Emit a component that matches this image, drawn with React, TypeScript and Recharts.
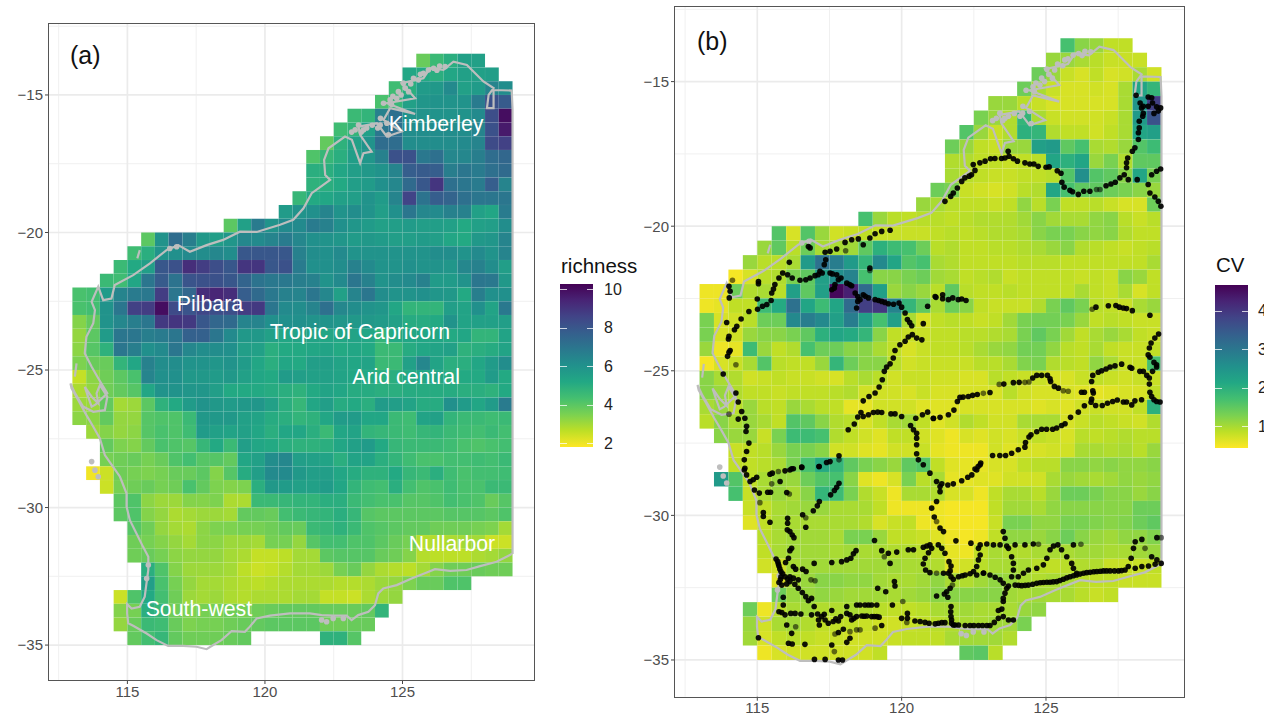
import { ScatterChart, Scatter, XAxis, YAxis, CartesianGrid, ReferenceLine } from "recharts";

const FONT = "'Liberation Sans', Arial, sans-serif";

const lonTicks = [115, 120, 125];
const latTicks = [-15, -20, -25, -30, -35];
const lonMinor = [112.5, 117.5, 122.5, 127.5];
const latMinor = [-12.5, -17.5, -22.5, -27.5, -32.5];
const lonDomain = [112.15, 129.78];
const latDomain = [-36.27, -12.42];

const viridis = ["#440154", "#482475", "#414487", "#355f8d", "#2a788e", "#21918c", "#22a884", "#44bf70", "#7ad151", "#bddf26", "#fde725"];

// western edge of the first cell in every 0.5 degree row, north to south
const rowStartLon = [125.5, 125, 124.5, 124, 123, 122.5, 122, 121.5, 121.5, 121.5, 121, 120.5, 118.5, 115.5, 115, 114.5, 114, 113, 113, 113, 113, 113, 113, 113, 113, 113, 113, 113.5, 114, 114, 113.5, 114, 114.5, 114.5, 115, 115, 115, 115.5, 115.5, 114.5, 114.5, 114.5, 115];

const richness: (number | null)[][] = [
  [3.8, 4.6, 5, 5.5, 5.5],
  [5.3, 5.2, 5, 5.3, 5.5, 5.5, 5.6],
  [4.5, 5, 5.7, 5.8, 6.3, 5.5, 5.7, 6.5, 6.2],
  [4.3, 4.7, 5.5, 5.9, 6, 6, 6, 6.8, 8.2, 7.9],
  [4.6, 4.8, 6.6, 7.2, 6, 6, 6, 6, 6, 6.3, 8.3, 10],
  [4.5, 4.8, 5.5, 7, 7.2, 6.2, 6.2, 6.2, 6.2, 6.2, 6.5, 8.2, 9.7],
  [3.9, 4.9, 5.5, 6, 7.3, 7.3, 6.2, 6.2, 6.2, 6.2, 6.3, 6.5, 8.4, 8.7],
  [4.2, 4.7, 5, 5.6, 5.9, 6.6, 8.2, 8.2, 6.9, 7.2, 6.4, 6.4, 6.7, 7.3, 7.5],
  [5, 5, 5.3, 5.6, 5.8, 6, 6.5, 7.8, 7.9, 7.8, 6.7, 7, 6.8, 7.2, 7.4],
  [4.9, 5, 5.2, 5.6, 5.7, 6.1, 6.4, 7.4, 8, 9, 7.2, 7, 6.8, 7.8, 6.5],
  [4.7, 5.2, 5.3, 5.5, 5.6, 6, 5.7, 6.5, 8.6, 7.1, 7.8, 7.6, 7.2, 7, 7, 7],
  [5.7, 6, 6.1, 6.5, 6, 6.2, 6, 5.6, 6.1, 7, 6.4, 6.3, 6.6, 6.6, 5.5, 5.3, 6.8],
  [4, 5.5, 6.8, 6, 6.3, 6.3, 6.8, 6.6, 6.1, 5.9, 5.7, 5.5, 5.6, 5.7, 5.6, 5.6, 5.5, 5.2, 5.5, 5.6, 6.2],
  [4, 6, 7.3, 6.7, 5.8, 5.6, 5.9, 6.4, 6.3, 6.5, 6.8, 6.4, 6.1, 6, 5.9, 5.7, 5.8, 5.7, 5.6, 5.6, 5.7, 5.6, 5.3, 5.2, 5.8, 5.9, 6.5],
  [4.5, 5, 6, 6.1, 6.3, 6.2, 6.4, 6.2, 8, 8, 8, 8, 6.6, 6.2, 6.1, 6.3, 6, 6, 6, 6, 6, 6, 6.2, 6.2, 6, 6.3, 6, 6.5],
  [4.6, 5.2, 5.6, 8, 8.2, 9.2, 8.8, 8.3, 8, 9, 9, 8, 8.2, 6.8, 6.1, 6.1, 6.2, 6.6, 6.3, 6, 6, 6.1, 6, 6, 5.9, 6.4, 6.6, 6.2, 5.6],
  [4.6, 4.5, 5.3, 7, 7.9, 7.1, 8.1, 8.2, 8.2, 8, 7.6, 7.1, 6.9, 6.9, 6.7, 6.6, 6, 6.3, 7, 6.6, 6, 6.2, 6.3, 6.6, 5.7, 5.7, 6, 7, 6.9, 5.8],
  [4.3, 4.4, 5.7, 6.5, 6.8, 6.9, 8.8, 7, 7.5, 9.2, 9.4, 9.2, 7.8, 7.4, 6.9, 6.6, 6.5, 7, 6.4, 5.5, 6.5, 7, 6.2, 6, 6, 6.1, 5.9, 5.8, 5.2, 6.7, 6.1, 6.1],
  [4.3, 4.4, 6, 7, 8.7, 8.8, 10, 8.4, 8.1, 8.5, 8.3, 8.3, 8.8, 8.9, 7, 6.3, 6.2, 6.5, 7.2, 6.4, 6.2, 6, 5.9, 5.3, 4.8, 4.8, 4.8, 5.6, 5.4, 6.1, 5.4, 6.9],
  [3.4, 3.9, 6, 6.4, 6.7, 7, 8.9, 9, 8.9, 8, 7.5, 7.4, 6.5, 6.5, 6.1, 6.1, 6.1, 6, 6, 5.9, 5.8, 5.8, 5.7, 5.5, 5.1, 5.1, 5.2, 6, 5.4, 5.5, 5.5, 5.6],
  [3.2, 4, 5.7, 7, 7, 6.7, 6.8, 7, 7.7, 7.7, 7, 6.3, 5.8, 5.8, 5.5, 5.3, 5.4, 5.4, 5.3, 5.3, 5.4, 5.3, 4.8, 5.2, 5.3, 5.3, 5.3, 5.2, 5.3, 4.8, 4.8, 5.4],
  [3.3, 4.1, 4.9, 7, 6.7, 6.1, 6.3, 7, 6.4, 6.2, 6.2, 6.1, 5.6, 5.5, 5, 5.2, 5.2, 5.3, 5.4, 5.2, 5.3, 5.2, 4.6, 4.6, 5.1, 5.3, 5.4, 5.5, 4.9, 5, 5.1, 5.4],
  [3.5, 3.8, 3.8, 4.8, 5.3, 6.6, 6.2, 6.2, 6, 6, 5.9, 6, 5.7, 5.3, 5, 5.3, 5.2, 5.6, 5.6, 5.4, 5.3, 5.4, 4.6, 4.6, 5.5, 6.4, 5.4, 5, 5, 5.3, 5.7, 6.2],
  [2.6, 3.3, 3.7, 4, 4.3, 6.5, 6.1, 6.1, 5.8, 5.8, 5.7, 5.8, 5.5, 5.3, 5.2, 5.7, 5.6, 5.5, 5.5, 5.4, 5.3, 5.2, 5, 5, 5.2, 5.3, 5.3, 5, 5.2, 5.2, 5.7, 5.2],
  [2.9, 3.2, 3.7, 3.9, 4.1, 5.3, 6, 6, 5.9, 5.9, 5.6, 5.2, 5.2, 5.2, 5.1, 5, 4.9, 5.2, 5.4, 5.3, 5.1, 5.1, 5, 5, 5.1, 5.1, 5.1, 5.1, 5, 5, 4.9, 5.2],
  [3.1, 3.1, 3.9, 3, 3.1, 4, 4.9, 5.2, 5.7, 6, 5.8, 5.7, 5.8, 5.9, 5.5, 5, 4.7, 5.3, 5.6, 5.1, 5.2, 5, 5.7, 5.6, 5.4, 5.1, 5.1, 6.1, 5.7, 5.3, 5.7, 6.8],
  [3.3, 3.3, 3.9, 3.2, 3.2, 4.1, 4.2, 4.2, 4.6, 5.8, 5.8, 5.8, 5.5, 5.4, 5.1, 5, 4.8, 4.9, 5.3, 5.7, 5.7, 5.3, 5.3, 4.6, 4.5, 5.4, 5.5, 4.8, 4.6, 4.6, 4.5, 4.6],
  [3.1, 3.4, 3.2, 3.3, 4.1, 4.3, 4.2, 4.5, 5.7, 5.5, 5.4, 5.5, 5.3, 5, 5.3, 5.3, 5, 4.6, 5.3, 5.4, 4.8, 4.7, 4.6, 4.5, 4.7, 4.8, 4.6, 4.5, 4.4, 4.6, 4.4],
  [3.9, 3.5, 3.4, 3.9, 4.3, 4.2, 4.1, 4.7, 5.2, 4.6, 5.6, 5.3, 5.2, 5, 4.9, 4.9, 5, 5.3, 5.5, 5.7, 5.2, 4.7, 4.6, 4.6, 4.6, 4.5, 4.3, 4.2, 4.3, 4.4],
  [3.6, 3.7, 3.8, 3.6, 3.8, 4.2, 4.4, 4.1, 4.1, 3.9, 5.3, 5.5, 6.2, 6.4, 5.6, 5.5, 5.4, 5, 5.4, 5.4, 5, 4.8, 4.5, 4.3, 4.3, 4.4, 4.4, 4.5, 4.4, 4.6],
  [2, 2.5, 3.7, 3.6, 3.5, 3.6, 3.8, 3.8, 4, 3.4, 4.1, 5.1, 5.6, 6.3, 6.3, 5.8, 5.6, 5.6, 5.3, 5.1, 4.9, 4.9, 5.2, 4.7, 4.6, 5, 4.5, 4.3, 4.4, 4.4, 4.5],
  [2.5, 3.6, 3.7, 3.8, 3.6, 3.7, 4.3, 3.9, 3.5, 3.4, 3.5, 5, 5.8, 5.7, 5.5, 5.5, 5.7, 5.3, 4.8, 4.5, 4.4, 5, 4.4, 4.2, 4.3, 4.5, 4.3, 4.3, 4.6, 4.6],
  [4, 4.2, 3.3, 3.1, 3.1, 3.4, 3.4, 3.5, 2.9, 2.9, 4.6, 4.6, 4.7, 4.8, 4.8, 5, 5, 4.6, 4.4, 4.3, 4.3, 4.1, 4.1, 4.2, 4.4, 4.3, 4.2, 3.8, 4.1],
  [4, 4.2, 3.4, 3.2, 2.9, 3, 3.1, 3.1, 3, 3.9, 3.9, 3.8, 4.4, 4.6, 4.7, 4.8, 5, 4.7, 4.1, 4, 4, 4, 4, 4, 4.1, 4.1, 4.1, 4, 4.2],
  [4.1, 3.7, 3.2, 3, 2.9, 3.3, 3.5, 3.5, 3.6, 3.6, 3.7, 3.9, 3.8, 4.6, 4.7, 4.9, 4.6, 4.2, 4.1, 4, 3.9, 3.9, 3.7, 3.7, 3.7, 3.6, 3.5, 3],
  [3.7, 3.6, 3.4, 3.2, 3, 3.3, 3.3, 3.1, 3.1, 3, 3.6, 3.6, 3.2, 4.1, 4.4, 4.4, 4.2, 4.2, 4, 3.8, 3.6, 2.8, 2.8, 2.9, 3, 3, 2.5, 2.5],
  [3.7, 3.8, 3.6, 3.3, 3.2, 3.2, 3.2, 3, 2.9, 2.6, 2.6, 2.7, 3, 3, 4, 4.1, 4.1, 4.1, 3.8, 3.7, 3.4, 2.8, 2.7, 2.7, 2.7, 2.9, 3, 3.2],
  [5, 4.2, 3.4, 3.1, 3.1, 3.1, 3, 2.7, 2.5, 2.6, 2.8, 3, 3, 3.1, 3.6, 3.8, 3.2, 2.9, 2.8, 2.7, 3, 3.4, 3.7, 3.7, 3.8, 3.7, 3.7],
  [5.6, 4.3, 3.6, 3.2, 3, 3, 2.9, 2.8, 2.7, 2.8, 2.9, 2.9, 2.9, 2.9, 2.8, 2.8, 2.9, 3.1, 3.2, 3.5, 3.8, 3.8, 4.2, 4.2],
  [2.5, 4.2, 5.2, 4.4, 3.7, 3.1, 3, 3.1, 2.9, 2.8, 2.9, 2.9, 2.9, 3, 3, 2.6, 2.6, 2.5, 2.9, 3.1, 3.2],
  [3.4, 3.6, 5, 4.7, 3.7, 3.5, 3.6, 3.6, 3.7, 3.6, 3.7, 3.8, 3.9, 3.9, 3.9, 3.8, 3.8, 3.8, 3.9, 4.8],
  [3.2, 3.8, 4.6, 4.5, 3.8, 3.5, 3.6, 3.6, 3.7, 3.8, 3.9, 4, 4, 4, 4, 3.7, 3.7, 3.8, 3.8],
  [3.9, 4.4, 4.7, 3.9, 3.7, 3.7, 3.7, 3.8, 3.9, null, null, null, null, null, 4.9, 4.9, 4.1],
];

const cv: (number | null)[][] = [
  [1.7, 1.2, 1.1, 0.85, 0.85],
  [1.1, 1.1, 1, 0.9, 0.8, 0.8, 0.8],
  [1.4, 1.1, 0.8, 0.7, 0.85, 0.7, 0.75, 1, 0.75],
  [1.4, 1, 0.8, 0.7, 0.7, 0.75, 0.7, 1, 2.2, 1.9],
  [1.1, 1.1, 0.9, 0.8, 0.7, 0.7, 0.7, 0.7, 0.7, 1, 2.5, 3.9],
  [1.3, 1.1, 0.95, 1.9, 1, 0.8, 0.75, 0.75, 0.75, 0.8, 1, 2.4, 3.6],
  [1.6, 1.1, 0.8, 0.95, 2, 1.9, 0.95, 0.85, 0.85, 0.75, 0.85, 1, 2.2, 2.3],
  [1.4, 1.1, 0.85, 0.8, 1.1, 1.1, 2.3, 2.4, 1.5, 1.7, 1, 0.95, 1.1, 1.6, 1.8],
  [0.95, 0.95, 0.85, 0.85, 0.8, 0.85, 0.9, 2.2, 2, 2.2, 1.1, 1.3, 0.95, 1.5, 1.5],
  [1, 0.9, 0.85, 0.8, 0.8, 0.85, 0.85, 0.9, 1.6, 2.6, 1.6, 1.5, 1.2, 2.2, 1.3],
  [1.4, 1.3, 0.8, 0.75, 0.7, 0.75, 0.9, 0.95, 2.2, 1.7, 1.5, 1.5, 1.4, 1.3, 1.2, 1.1],
  [1.1, 1, 0.9, 0.85, 0.85, 0.8, 0.85, 1.15, 0.9, 1.3, 0.85, 0.85, 0.9, 0.8, 0.7, 0.7, 1.4],
  [1.7, 1.1, 0.9, 0.85, 0.9, 0.9, 0.85, 0.9, 0.95, 0.95, 0.95, 1.05, 1.2, 1.05, 1, 1, 1.15, 1.2, 0.9, 0.8, 0.9],
  [1.6, 0.7, 1.6, 1.1, 0.75, 0.8, 0.85, 0.8, 0.8, 0.8, 0.8, 0.85, 0.9, 0.85, 0.9, 0.95, 0.95, 1, 1.2, 1.3, 1.3, 1.2, 1.15, 1.2, 0.95, 0.85, 0.85],
  [1.1, 1.5, 0.9, 1.4, 1, 1, 1.05, 1.5, 2, 1.8, 1.7, 1.4, 0.9, 0.95, 0.85, 0.85, 0.9, 0.9, 0.95, 1, 1.1, 1.2, 0.95, 0.9, 0.85, 0.8, 0.85, 0.9],
  [1.1, 0.9, 0.9, 1, 2.4, 3.1, 2.9, 2.4, 1.9, 2.7, 2.2, 1.6, 1.7, 1, 0.95, 0.85, 0.85, 0.85, 0.85, 0.9, 0.9, 0.9, 0.85, 0.85, 0.85, 0.85, 0.85, 0.85, 1],
  [0.5, 0.7, 0.9, 0.95, 1.3, 1.5, 2.3, 2.6, 2.8, 1.7, 1.2, 1.2, 1.3, 1.4, 1.05, 1, 0.85, 0.9, 0.95, 0.8, 0.85, 0.85, 0.85, 0.85, 0.8, 0.85, 0.8, 1.2, 1.1, 0.85],
  [0.55, 0.55, 1.4, 0.95, 1, 0.9, 2.3, 1.5, 2.3, 4.6, 4.3, 3.2, 2.3, 1.1, 1.2, 1.1, 0.9, 1.5, 0.9, 0.85, 0.85, 0.9, 0.85, 0.85, 0.85, 0.85, 1, 0.85, 0.8, 1, 0.7, 0.85],
  [0.55, 0.6, 0.85, 0.85, 1.8, 2.1, 3.1, 2.2, 1.8, 2.2, 3.2, 3.9, 4, 2.8, 1.9, 1.5, 1, 1.4, 1.2, 0.85, 0.8, 0.8, 0.8, 0.95, 1.3, 1.5, 1.3, 0.9, 0.85, 0.8, 1, 1.1],
  [1.3, 0.7, 0.75, 0.9, 1.4, 1.4, 2.7, 2.9, 2.7, 2.3, 2.9, 2.3, 1.7, 2.3, 1, 0.7, 0.85, 0.9, 0.85, 0.8, 0.85, 1.05, 1.3, 1.35, 1.35, 1.3, 1.1, 0.85, 0.9, 0.85, 0.8, 0.8],
  [1.3, 0.7, 0.75, 1.1, 1.2, 1.2, 1.3, 1.5, 2, 2.2, 2.1, 1.9, 1.2, 0.85, 0.8, 0.8, 0.85, 0.85, 0.9, 0.9, 0.95, 1, 1.3, 1.5, 1.3, 1.05, 0.85, 1, 1.1, 1, 0.85, 0.8],
  [1.1, 0.55, 0.6, 1.8, 1.1, 0.85, 0.95, 1.7, 1.4, 1.4, 1.2, 1.2, 1, 0.85, 0.7, 0.8, 0.85, 0.85, 0.9, 1, 1.1, 1.15, 1.35, 1.35, 1.15, 0.9, 0.85, 1, 0.85, 0.8, 0.8, 0.85],
  [0.5, 0.7, 0.8, 1, 1.6, 0.9, 0.85, 0.85, 1.1, 1.9, 1.4, 1.2, 1.2, 0.9, 0.75, 0.8, 0.8, 0.8, 0.8, 0.9, 0.9, 1, 1.25, 1.3, 0.95, 0.9, 0.85, 1.15, 1, 0.8, 0.8, 1.7],
  [1.2, 1, 0.95, 0.75, 0.8, 0.85, 0.8, 0.8, 0.75, 0.7, 0.9, 1, 0.9, 0.75, 0.8, 0.8, 0.75, 0.75, 0.7, 0.7, 0.9, 0.85, 0.8, 0.8, 0.7, 0.7, 0.8, 0.85, 0.8, 0.75, 0.8, 0.8],
  [1.2, 1.1, 0.95, 0.85, 0.85, 0.8, 0.85, 0.85, 0.85, 0.9, 0.95, 0.75, 0.75, 0.75, 0.7, 0.8, 0.7, 0.7, 0.7, 0.7, 0.7, 0.9, 0.75, 0.7, 0.7, 0.7, 0.65, 0.6, 0.65, 0.7, 0.7, 0.85],
  [1, 1.1, 0.9, 1.1, 0.9, 0.85, 1.1, 1, 0.9, 0.85, 0.6, 0.6, 0.75, 0.75, 0.75, 0.65, 0.65, 0.65, 0.7, 0.7, 0.7, 0.7, 0.7, 0.65, 0.7, 0.65, 0.75, 0.8, 0.75, 0.75, 0.85, 2],
  [0.9, 1.2, 1, 1.1, 1, 0.85, 1.6, 1.5, 1.2, 0.95, 0.9, 0.7, 0.85, 1, 1.05, 0.85, 0.65, 0.75, 0.95, 0.85, 0.75, 0.75, 1, 1, 1, 0.7, 0.8, 0.9, 0.85, 0.8, 0.75, 0.95],
  [1.2, 1.1, 1.1, 0.8, 1.3, 1.8, 1.8, 1.7, 0.95, 0.85, 0.75, 0.65, 0.85, 0.85, 0.75, 0.65, 0.55, 0.7, 0.65, 0.75, 0.7, 0.8, 0.85, 0.8, 0.7, 0.9, 0.85, 0.9, 0.95, 0.9, 0.9],
  [0.8, 0.85, 0.9, 1.1, 1.3, 1.3, 1.2, 0.75, 0.75, 0.65, 0.6, 0.75, 0.75, 0.8, 0.6, 0.55, 0.55, 0.55, 0.75, 0.65, 0.7, 0.7, 0.75, 0.75, 1, 1, 0.95, 1, 0.9, 1.1],
  [0.85, 0.85, 0.9, 1, 1.3, 1.7, 2.1, 1.9, 1.5, 1.3, 1.2, 1.1, 1.5, 1.6, 0.85, 0.65, 0.6, 0.6, 0.7, 0.7, 0.85, 0.9, 0.9, 1.2, 1.2, 1.15, 1.2, 1.15, 1.15, 1.2],
  [2.4, 1.6, 0.85, 1, 1.1, 1.1, 1.4, 1.6, 1.7, 1.2, 0.65, 0.55, 0.7, 1.3, 0.9, 1, 0.6, 0.6, 0.65, 0.65, 0.75, 0.75, 0.75, 1, 1.1, 1.05, 1, 1.05, 1.15, 1.1, 1.15],
  [1.7, 0.8, 1, 1.1, 1, 1.2, 1.9, 1.8, 1.3, 0.95, 0.8, 0.55, 1, 1, 0.95, 0.7, 0.7, 0.55, 0.85, 1, 1, 0.9, 1.1, 1.4, 1.4, 1.3, 1.2, 1.2, 1.1, 1.2],
  [0.8, 0.85, 1, 1.05, 1.1, 1.1, 1, 1, 1, 0.85, 0.55, 0.55, 0.55, 0.55, 0.5, 0.5, 0.5, 0.85, 1.05, 1.05, 1, 1.15, 1.2, 1.2, 1.2, 1.2, 1.2, 1.4, 1.4],
  [0.65, 0.85, 1, 1, 1, 1, 1, 1, 0.95, 0.7, 0.8, 0.85, 0.55, 0.55, 0.5, 0.5, 0.5, 0.8, 1.3, 1.3, 1.15, 1.15, 1.3, 1.3, 1.25, 1.2, 1.25, 1.4, 1.5],
  [0.9, 1, 1.05, 1.05, 1.05, 1, 1.3, 1.3, 1.1, 0.85, 0.85, 0.8, 0.65, 0.55, 0.5, 0.55, 0.85, 1.15, 1.15, 1.1, 1.2, 1.4, 1.2, 1.1, 1.05, 1.15, 1.15, 1.25],
  [0.85, 1, 1.05, 1.05, 1.05, 1, 1.05, 1, 1, 0.95, 0.95, 0.9, 0.85, 0.6, 0.55, 0.85, 1, 0.95, 0.95, 1, 1, 1, 1.05, 1.05, 1, 1, 1.05, 1.1],
  [0.75, 0.75, 1, 1.05, 1.05, 1.05, 1.05, 1.05, 1.05, 1.05, 1, 1, 0.95, 0.65, 0.75, 0.9, 1, 1, 1, 0.9, 0.85, 0.9, 0.95, 0.95, 0.8, 0.8, 0.8, 0.85],
  [0.65, 1, 1.1, 1.2, 1.2, 1.15, 1.15, 1.05, 1, 1, 1.05, 1.15, 1, 0.95, 1.05, 1.15, 1.1, 1, 0.95, 1, 1, 0.9, 0.85, 0.85, 0.8, 0.8, 0.8],
  [1.4, 1.1, 1.1, 1.15, 1.1, 1.05, 1.05, 1.05, 1, 1.05, 1.1, 1.2, 1.2, 1.2, 1.2, 1.2, 1.05, 1, 1.05, 1, 1, 0.9, 0.8, 0.85],
  [1.4, 0.55, 0.9, 1, 1.05, 0.95, 0.95, 1, 0.95, 0.9, 0.85, 0.85, 0.9, 1, 1, 1.05, 1, 1, 1, 1.1, 1.15],
  [1.1, 0.75, 1, 1.05, 0.95, 0.85, 0.85, 0.85, 0.8, 0.75, 0.75, 0.8, 0.85, 0.9, 0.95, 1, 1, 1.05, 1.05, 1.3],
  [1.05, 0.7, 0.85, 0.9, 0.85, 0.8, 0.8, 0.75, 0.75, 0.75, 0.8, 0.85, 0.85, 0.85, 1, 1.05, 1.05, 1.05, 0.95],
  [0.55, 0.7, 0.75, 0.75, 0.75, 0.75, 0.75, 0.75, 0.85, null, null, null, null, null, 1.5, 1.55, 0.9],
];

// digitised coastline, from the SA border round to the NT border and back down it
const coast = [
  [128.97, -31.69], [128.42, -31.97], [127.82, -32.13], [127.33, -32.27], [126.73, -32.3], [126.18, -32.24], [125.88, -32.36], [125.33, -32.58], [124.79, -32.82], [124.3, -32.94], [124.12, -33.12], [124, -33.55], [123.76, -33.79], [123.39, -33.91], [123.15, -34.09], [122.97, -33.93], [122.48, -33.93], [122.06, -33.91], [121.63, -33.85], [120.91, -33.85], [120.18, -33.93], [119.7, -34.03], [119.45, -34.33], [119.27, -34.52], [118.79, -34.49], [118.42, -34.82], [118.12, -35], [117.88, -35.15], [117.51, -35.06], [117.03, -35.03], [116.48, -35.03], [116.06, -34.82], [115.7, -34.58], [115.21, -34.3], [115.03, -34.21], [114.99, -33.85], [114.99, -33.51], [115.15, -33.67], [115.45, -33.61], [115.63, -33.24], [115.7, -32.7], [115.76, -32.27], [115.76, -31.79], [115.57, -31.43], [115.33, -30.94], [115.09, -30.46], [114.97, -29.97], [114.97, -29.49], [114.73, -28.88], [114.48, -28.52], [114.18, -28.09], [114, -27.49], [113.76, -27.06], [113.51, -26.64], [113.21, -26.09], [112.97, -25.67], [112.93, -25.49], [113.1, -25.85], [113.39, -26.33], [113.76, -26.52], [114.18, -26.46], [114.27, -25.97], [114, -25.55], [113.88, -25.85], [113.94, -26.21], [113.7, -25.97], [113.45, -25.61], [113.57, -25.97], [113.7, -26.33], [113.85, -26.25], [114.27, -25.85], [113.94, -25.3], [113.7, -24.88], [113.45, -24.39], [113.51, -23.79], [113.76, -23.3], [113.82, -22.82], [113.7, -22.52], [113.94, -21.97], [114.12, -22.46], [114.42, -22.4], [114.54, -21.91], [115.21, -21.55], [115.82, -21.12], [116.42, -20.64], [116.85, -20.46], [117.27, -20.7], [117.88, -20.46], [118.48, -20.27], [119.09, -19.97], [119.7, -19.98], [120.55, -19.72], [121.03, -19.54], [121.4, -19.12], [121.7, -18.57], [122.37, -18.09], [122.19, -17.91], [122.15, -17.36], [122.31, -16.94], [122.91, -16.51], [123.16, -16.63], [123.46, -17.48], [123.58, -17.12], [123.88, -17.06], [123.46, -16.45], [123.4, -16.15], [124.07, -16.03], [124.43, -16.51], [124.97, -16.33], [124.31, -15.91], [124.55, -15.48], [125.46, -15.69], [124.43, -15.3], [125.46, -15.12], [124.97, -14.57], [125.76, -14.39], [126, -14.03], [126.49, -14.09], [126.85, -13.79], [127.34, -13.91], [127.94, -14.51], [128.31, -14.75], [128.13, -15], [128.07, -15.48], [128.31, -15.48], [128.31, -14.82], [128.97, -14.84], [129, -15.5], [129, -20], [129, -25], [129, -31.69],
];
const dirkHartog = [[113.15, -24.76], [113.09, -25.24]];
const barrow = [[115.45, -20.64], [115.36, -20.94]];
const islands = [
  [123.58, -16.27], [123.4, -16.09], [125.03, -14.57], [125.4, -14.39], [126.13, -14.03], [125.76, -14.21], [124.55, -15.18], [124.79, -15.12], [124.31, -15.3], [125.22, -14.88], [124.43, -16.03], [124.49, -16.45], [124.19, -16.09], [123.28, -16.27], [124.85, -14.88], [125.94, -14.09], [125.58, -14.45], [126.55, -13.97],
  [123.7, -16.2], [123.5, -16.35], [124.65, -15.05], [125.1, -14.75], [125.3, -14.6], [124.95, -15], [124.6, -15.35], [124.2, -15.85], [124.1, -16.2], [123.9, -16.1], [123.15, -16.35], [125.65, -14.25], [126.25, -14.1], [126.35, -13.95],
  [116.79, -20.52], [116.54, -20.58], [122.06, -34.09], [122.24, -34.15], [122.48, -34.03], [122.85, -34.03], [113.7, -28.33], [113.82, -28.64], [113.94, -28.88], [115.7, -32.58], [115.76, -32.09],
];

const tropicLat = -23.25;
const tropicLon = [113.3, 128.9];
const regions = [
  { lon: 126.22, lat: -16.05, name: "Kimberley" },
  { lon: 118, lat: -22.6, name: "Pilbara" },
  { lon: 123.45, lat: -23.62, name: "Tropic of Capricorn" },
  { lon: 125.13, lat: -25.25, name: "Arid central" },
  { lon: 126.8, lat: -31.33, name: "Nullarbor" },
  { lon: 117.6, lat: -33.69, name: "South-west" },
];

const sites = [
  [121.5, -19.14], [121.7, -18.97], [121.79, -18.85], [121.93, -18.68], [122.08, -18.45], [122.19, -18.33], [122.34, -18.27], [122.42, -18.22], [122.54, -18.07], [122.48, -17.87], [122.71, -17.81], [122.89, -17.75], [123.08, -17.67], [123.23, -17.66], [123.46, -17.66], [123.58, -17.64], [123.69, -17.41], [123.72, -17.58], [123.87, -17.67], [124.01, -17.75], [124.27, -17.81], [124.44, -17.85], [124.58, -17.85], [124.73, -17.93], [125, -17.96], [125.11, -17.95], [125.39, -18.08], [125.52, -18.17], [125.55, -18.48], [125.63, -18.65], [125.83, -18.76], [125.92, -18.81], [126.12, -18.9], [126.31, -18.79], [126.52, -18.79], [127.08, -18.6], [127.25, -18.54], [127.4, -18.48], [127.56, -18.33], [127.71, -18.22], [127.85, -18.39], [128.16, -18.39], [127.79, -17.98], [127.79, -17.81], [127.83, -17.64], [127.99, -17.41], [128.08, -17.29], [128.2, -17], [128.2, -16.77], [128.23, -16.6], [128.23, -16.37], [128.35, -16.2], [128.37, -16.1], [128.31, -15.91], [128.26, -15.74], [128.12, -15.47], [128.37, -15.85], [128.54, -15.85], [128.69, -15.74], [128.54, -15.53], [128.66, -15.56], [128.83, -15.87], [128.97, -15.91], [128.89, -16.02], [128.74, -16.1], [128.54, -18.56], [128.6, -18.85], [128.77, -18.99], [128.89, -19.14], [128.98, -19.31], [128.66, -18.22], [128.83, -18.1], [128.97, -18.02],
  [116.83, -20.75], [116.77, -20.7], [117.35, -20.9], [117.37, -21.16], [117.32, -21.33], [117.17, -21.56], [117.11, -21.68], [117, -21.71], [116.83, -21.79], [116.68, -21.85], [116.48, -21.87], [116.21, -21.79], [116.05, -21.68], [115.88, -21.62], [115.75, -21.79], [115.61, -22.02], [115.56, -22.17], [115.5, -22.31], [115.48, -22.57], [115.33, -22.71], [115.18, -22.77], [115.01, -22.87], [114.71, -22.95], [114.44, -23.21], [114.29, -23.46], [114.21, -23.58], [114.02, -23.81], [114, -23.9], [114.06, -24.3], [114.02, -24.36], [113.97, -24.5], [113.94, -23.33], [115.04, -21.91], [115.04, -21.99], [115, -22.52], [116.11, -21.25], [117.52, -21.62], [117.75, -21.68], [117.9, -21.79], [118.1, -21.97], [118.27, -22.06], [118.39, -22.31], [118.48, -22.43], [118.44, -22.83], [118.48, -22.6], [118.67, -22.37], [118.85, -22.48], [119.08, -22.54], [119.31, -22.6], [119.54, -22.68], [119.91, -22.66], [120, -22.8], [120.12, -23], [120.2, -23.23], [120.35, -23.44], [120.37, -23.75], [120.23, -23.83], [120.12, -23.98], [119.94, -24.1], [119.77, -24.3], [119.71, -24.56], [119.6, -24.76], [119.48, -24.87], [119.4, -25.02], [119.33, -25.31], [119.22, -25.56], [119.08, -25.77], [118.87, -25.89], [118.67, -26.04], [120.52, -23.87], [120.7, -23.93], [120.75, -23.37], [120.9, -22.77], [121.16, -22.43], [117.58, -22.2], [117.69, -22.02], [117.81, -21.85], [117.67, -22.14], [117.52, -20.87], [117.75, -20.79], [118.04, -20.56], [118.27, -20.47], [118.5, -20.44], [118.67, -20.64], [118.9, -20.41], [119.08, -20.26], [119.31, -20.18], [119.6, -20.14], [118.9, -21.45], [114.02, -22.08], [114.06, -22.25], [114.03, -22.48], [113.82, -25.11], [114.26, -25.77], [114.34, -26.08], [114.46, -26.41], [114.34, -26.67], [114.57, -26.64], [114.63, -26.92], [114.61, -27.1], [114.71, -27.5], [114.63, -27.79], [114.55, -28.08], [114.57, -28.37], [118.15, -27.04], [118.36, -26.84], [118.48, -26.6], [118.59, -26.44], [118.67, -26.58], [118.85, -26.52], [119.02, -26.44], [119.17, -26.43], [119.31, -26.44], [119.63, -26.49], [119.77, -26.49], [120, -26.58], [120.31, -26.89], [120.41, -27.04], [120.52, -27.16], [120.52, -27.33], [120.52, -27.56], [120.52, -27.87], [120.58, -28.08], [120.75, -28.25], [120.49, -26.64], [120.72, -26.52], [120.9, -26.43], [121.1, -26.64], [117.83, -27.94], [117.52, -28.14], [117.4, -28.17], [117.14, -28.31], [116.54, -28.34], [116.19, -28.39],
  [121.19, -22.46], [121.42, -22.37], [121.42, -22.51], [121.62, -22.54], [121.77, -22.48], [121.96, -22.54], [122.08, -22.52], [122.23, -22.57], [126.73, -22.8], [127.16, -22.75], [127.42, -22.74], [127.54, -22.8], [127.68, -22.83], [127.79, -22.85], [127.99, -22.92], [128.6, -23.08], [128.9, -23.73], [128.77, -23.87], [128.64, -24.04], [128.58, -24.21], [128.54, -24.45], [128.6, -24.53], [128.74, -24.71], [128.83, -24.79], [128.83, -24.87], [128.69, -25.02], [127.62, -24.77], [127.39, -24.83], [127.22, -24.87], [127.08, -24.94], [126.93, -25], [126.81, -25.05], [126.62, -25.16], [126.58, -25.37], [127.91, -24.88], [127.97, -24.91], [128.25, -25.02], [128.37, -25.02], [128.49, -25.16], [128.58, -25.25], [128.58, -25.46], [128.6, -25.74], [128.66, -25.89], [128.74, -26], [128.83, -26.06], [128.95, -26.08], [126.23, -25.74], [126.33, -25.74], [126.62, -25.69], [126.64, -25.77], [126.58, -25.98], [126.56, -26.09], [126.72, -26.2], [126.95, -26.2], [127.13, -26.12], [127.31, -26.06], [127.47, -26.01], [127.68, -26.08], [127.79, -26.08], [127.97, -26.18], [128.08, -26.04], [128.31, -26], [126.33, -26.21], [126.12, -26.43], [125.85, -26.61], [125.66, -26.83], [125.54, -26.89], [125.37, -26.98], [125.23, -27.02], [125.02, -27.02], [124.85, -27.02], [124.68, -27.11], [124.48, -27.21], [124.41, -27.29], [124.29, -27.48], [124.27, -27.64], [124.04, -27.73], [123.81, -27.85], [123.6, -27.93], [123.4, -27.93], [123.15, -27.93], [122.74, -28.19], [122.65, -28.31], [122.54, -28.4], [123.06, -25.75], [122.62, -25.82], [122.46, -25.85], [122.31, -25.89], [122.13, -25.91], [122.02, -25.92], [121.93, -26.06], [121.81, -26.36], [121.62, -26.52], [121.33, -26.61], [121.1, -26.65], [123.54, -25.46], [123.87, -25.41], [124.07, -25.4], [124.54, -25.25], [124.68, -25.16], [124.85, -25.16], [125.05, -25.16], [125.14, -25.28], [125.16, -25.37], [125.29, -25.54], [125.43, -25.6],
  [114.55, -28.43], [114.63, -28.6], [114.75, -28.83], [114.86, -28.77], [114.98, -28.68], [114.9, -29.12], [115.07, -29.23], [115.36, -29.2], [115.46, -29.2], [115.21, -29.9], [115.21, -30.04], [115.44, -30.24], [115.79, -28.83], [116.02, -29.21], [115.44, -28.58], [115.52, -28.54], [115.96, -28.46], [116.13, -28.43], [116.25, -28.39], [116.54, -28.33], [117.14, -28.31], [117.54, -29.29], [117.67, -29.14], [117.75, -29.03], [117.83, -28.89], [117.15, -29.52], [117.08, -29.67], [116.94, -29.84], [116.57, -29.98], [116.68, -30.41], [116.05, -30.1], [116.05, -30.27], [116.04, -30.5], [116.13, -30.56], [116.21, -30.68], [116.27, -30.77], [116.19, -31.14], [116.13, -31.22], [116.08, -31.48], [115.98, -31.63], [115.65, -31.51], [115.71, -31.6], [115.75, -31.75], [115.82, -31.94], [115.82, -32.12], [115.75, -32.32], [115.85, -32.41], [115.96, -32.12], [116.13, -32.12], [116.25, -32.17], [116.42, -32.23], [116.25, -31.77], [116.33, -31.86], [116.57, -31.86], [116.69, -31.94], [116.13, -32.29], [116.02, -32.37], [116.42, -32.52], [116.56, -32.67], [116.68, -32.81], [116.77, -32.95], [116.88, -32.87], [116.97, -31.66], [115.9, -32.83], [115.9, -33.1], [115.75, -33.33], [115.85, -33.36], [115.96, -33.44], [116.16, -33.39], [116.31, -33.39], [116.51, -33.41], [116.88, -33.44], [116.97, -33.15], [117.09, -33.41], [117.12, -33.62], [117.15, -33.79], [117.32, -33.42], [117.35, -33.62], [117.46, -33.73], [117.58, -33.29], [117.63, -33.67], [117.81, -33.65], [117.89, -33.5], [118.1, -33.39], [118.21, -33.44], [118.27, -33.62], [118.44, -33.5], [118.62, -33.48], [118.79, -33.48], [118.96, -33.5], [119.14, -33.5], [119.22, -33.52], [118.1, -33.15], [118.44, -33.1], [118.56, -33.1], [118.73, -33.1], [118.96, -33.1], [119.14, -33.1], [116.02, -33.79], [116.19, -34.08], [116.08, -34.42], [116.21, -34.45], [116.65, -34.46], [115.04, -34.23], [116.98, -34.98], [117.35, -34.98], [117.58, -34.48], [117.81, -34.05], [117.98, -33.94], [118.1, -34.39], [118.21, -34.25], [119.31, -33.81], [117.81, -35], [117.95, -35],
  [117.58, -31.63], [117.92, -31.6], [118.1, -31.54], [118.24, -31.48], [118.33, -31.33], [118.42, -31.22], [119.06, -30.87], [119.31, -31.22], [119.6, -31.66], [119.54, -31.31], [119.83, -31.27], [120.23, -31.19], [120.41, -31.19], [120.75, -31.1], [120.87, -31.06], [119.17, -32.52], [119.45, -32.64], [119.75, -32.29], [119.77, -32.44], [119.68, -33.1], [120, -33.56], [120.2, -33.39], [120.2, -33.56], [120.46, -33.65], [120.64, -33.67], [120.81, -33.7], [120.95, -33.73], [121.16, -33.75], [121.27, -33.73], [121.39, -33.71], [121.5, -33.71], [121.73, -33.73], [121.79, -33.79], [121.97, -33.79], [122.2, -33.81], [122.37, -33.81], [122.66, -33.81], [122.95, -33.81], [123.06, -33.81], [123.21, -33.7], [123.35, -33.56], [123.52, -33.5], [123.35, -33.29], [123.47, -33.24], [123.7, -33.62], [123.87, -33.62], [121.71, -33.15], [121.7, -33.33], [121.71, -33.5], [121.73, -33.62], [121.56, -32.64], [121.48, -32.72], [121.6, -32.83], [121.21, -32.79], [121.68, -32.52],
  [120.98, -31.02], [121.04, -31.14], [120.93, -31.29], [120.81, -31.48], [120.75, -31.68], [120.83, -31.89], [120.98, -31.98], [121.45, -32], [121.62, -32], [121.71, -32.12], [121.79, -32.21], [121.97, -32.12], [122.2, -32.06], [122.37, -32.02], [122.6, -32.06], [122.83, -32], [123.06, -32.06], [123.24, -32.14], [123.41, -32.23], [123.52, -32.35], [123.7, -32.44], [121.27, -31.02], [121.39, -31.14], [121.5, -31.31], [121.64, -31.6], [121.71, -31.75], [121.68, -31.92], [121.88, -30.88], [122.4, -30.96], [122.72, -31.02], [122.95, -30.99], [123.18, -31.02], [123.41, -31.02], [123.64, -31.06], [123.93, -31.02], [124.27, -31.02], [124.56, -30.99], [122.66, -31.14], [122.72, -31.37], [122.66, -31.54], [122.6, -31.77], [122.49, -31.94], [123.58, -30.79], [123.52, -30.56], [123.7, -31.14], [123.81, -31.43], [123.87, -31.66], [123.87, -31.89], [123.81, -32.12], [124.04, -32.12], [124.22, -32], [124.39, -31.89], [124.68, -31.83], [124.91, -31.71], [125.03, -31.48], [125.14, -31.19], [125.26, -31.06], [125.41, -31.02], [125.54, -31.19], [125.72, -31.43], [125.89, -31.66], [125.95, -31.83], [126.06, -32], [125.95, -31.02],
  [123.93, -32.41], [124.05, -32.42], [124.16, -32.43], [124.28, -32.42], [124.39, -32.41], [124.54, -32.38], [124.68, -32.35], [124.8, -32.33], [124.91, -32.32], [125.03, -32.31], [125.14, -32.31], [125.25, -32.3], [125.37, -32.29], [125.48, -32.25], [125.6, -32.21], [125.72, -32.16], [125.83, -32.12], [125.95, -32.09], [126.06, -32.06], [126.18, -32.03], [126.3, -32], [126.41, -31.98], [126.53, -31.97], [126.65, -31.95], [126.76, -31.94], [126.88, -31.93], [126.99, -31.92], [127.1, -31.92], [127.22, -31.92], [127.37, -31.92], [127.51, -31.92], [127.62, -31.91], [127.74, -31.89], [127.85, -31.77], [127.95, -31.48], [128.03, -31.14], [128.09, -30.91], [128.32, -30.83], [128.09, -31.83], [128.32, -31.77], [128.55, -31.75], [128.78, -31.69], [128.99, -31.66], [128.66, -31.43], [128.84, -31.54], [128.84, -30.77], [123.64, -32.52], [123.58, -32.69], [123.52, -32.87], [123.52, -32.98],
  [121.45, -30.56], [121.33, -30.44], [121.13, -30.06], [121.04, -29.75], [121.21, -29.52], [121.33, -29.18], [121.33, -29], [121.21, -28.83], [120.98, -28.54], [121.39, -28.91], [121.6, -28.95], [121.79, -28.91], [122.08, -28.8], [122.29, -28.68], [122.43, -28.6], [122.6, -28.43], [122.72, -28.25],
  [115.73, -31.68], [115.78, -31.85], [115.88, -32.02], [115.8, -32.22], [116.05, -32.2], [116.3, -32.38], [117.23, -33.5], [117.72, -33.58], [118.35, -33.56], [118.7, -33.49], [118.85, -33.1], [119.05, -33.5], [122.84, -31.99], [122.1, -32.09], [121.85, -33.79], [122.5, -33.81], [122.8, -33.81], [117.6, -21.65], [117.25, -21.62], [118.2, -22.02], [118.56, -22.54], [118.74, -22.42], [119.2, -22.57], [119.42, -22.64], [119.72, -22.7], [120.28, -23.33],
];
// the paler dots, where a single site sits on its own
const fadedSites = [
  [126.75, -18.73], [126.87, -18.73], [118.06, -20.85], [118.9, -21.53], [114.14, -21.87], [114.26, -24.79], [114.02, -26.5], [117.83, -28.08], [126.6, -22.87], [122.83, -25.78], [123.38, -25.47], [124.27, -25.4], [124.41, -25.39], [125.6, -25.69], [125.77, -25.71], [115.09, -29.56], [115.5, -28.91], [116.11, -29.26], [115.73, -28.48], [116.68, -30.08], [116.86, -32.23], [117, -32.26], [116.33, -33.85], [117.67, -34.71], [117.69, -34.1], [118.21, -34.02], [118.44, -33.96], [118.56, -33.96], [119.08, -33.9], [119.4, -31.43], [120.04, -32.98], [120.18, -33.7], [121.76, -32.41], [121.21, -32], [124.74, -31], [126.21, -31], [128.43, -31.14], [128.99, -30.77], [121.21, -30.21],
];

const pts = (list: number[][]) => list.map(([lon, lat]) => ({ lon, lat }));

const cellsOf = (rows: (number | null)[][]) =>
  rows.flatMap((row, i) =>
    row.flatMap((v, j) => (v === null ? [] : [{ lon: rowStartLon[i] + 0.25 + j * 0.5, lat: -13.75 - i * 0.5, v }]))
  );

// viridis runs from the top of the scale (dark) to the bottom (yellow)
function colorAt(t: number) {
  const p = Math.min(Math.max(t, 0), 1) * (viridis.length - 1);
  const i = Math.min(Math.floor(p), viridis.length - 2);
  const f = p - i;
  const rgb = [1, 3, 5].map((k) => {
    const a = parseInt(viridis[i].slice(k, k + 2), 16);
    const b = parseInt(viridis[i + 1].slice(k, k + 2), 16);
    return Math.round(a + (b - a) * f);
  });
  return `rgb(${rgb.join(",")})`;
}

const hidden = () => <g />;

function MapPanel({ box, rows, range, tag, tagAt, children, yWidth, xHeight, chartLeft, chartWidth }: any) {
  const [left, top, right, bottom] = box;
  const pw = right - left;
  const ph = bottom - top;
  const cw = (pw / (lonDomain[1] - lonDomain[0])) * 0.5;
  const ch = (ph / (latDomain[1] - latDomain[0])) * 0.5;
  const drawCell = ({ cx, cy, payload }: any) => (
    <rect
      x={cx - cw / 2}
      y={cy - ch / 2}
      width={cw}
      height={ch}
      fill={colorAt((range[1] - payload.v) / (range[1] - range[0]))}
      stroke="rgba(255,255,255,0.06)"
      strokeWidth={0.5}
    />
  );
  const dot = (r: number, fill: string, o: number) => ({ cx, cy }: any) => <circle cx={cx} cy={cy} r={r} fill={fill} fillOpacity={o} />;
  return (
    <>
      <div style={{ position: "absolute", left: chartLeft, top: 0 }}>
        <ScatterChart
          width={chartWidth}
          height={719}
          margin={{ top, left: 0, right: chartLeft + chartWidth - right, bottom: 0 }}
        >
          <CartesianGrid horizontalValues={latMinor} verticalValues={lonMinor} stroke="#f0f0f0" strokeWidth={1} />
          <CartesianGrid horizontalValues={latTicks} verticalValues={lonTicks} stroke="#ebebeb" strokeWidth={1.7} />
          <XAxis
            type="number"
            dataKey="lon"
            domain={lonDomain}
            ticks={lonTicks}
            allowDataOverflow
            interval={0}
            height={xHeight}
            axisLine={false}
            tickSize={4}
            tickLine={{ stroke: "#444" }}
            tick={{ fill: "#4d4d4d", fontSize: 15, fontFamily: FONT }}
          />
          <YAxis
            type="number"
            dataKey="lat"
            domain={latDomain}
            ticks={latTicks}
            allowDataOverflow
            interval={0}
            width={yWidth}
            axisLine={false}
            tickSize={4}
            tickLine={{ stroke: "#444" }}
            tick={{ fill: "#4d4d4d", fontSize: 15, fontFamily: FONT }}
            tickFormatter={(v: number) => `\u2212${Math.abs(v)}`}
          />
          <Scatter data={cellsOf(rows)} shape={drawCell} isAnimationActive={false} />
          <Scatter data={pts(coast)} shape={hidden} line={{ stroke: "#bebebe", strokeWidth: 2.2 }} isAnimationActive={false} />
          <Scatter data={pts(dirkHartog)} shape={hidden} line={{ stroke: "#bebebe", strokeWidth: 2.2 }} isAnimationActive={false} />
          <Scatter data={pts(barrow)} shape={hidden} line={{ stroke: "#bebebe", strokeWidth: 2.2 }} isAnimationActive={false} />
          <Scatter data={pts(islands)} shape={dot(2.8, "#bebebe", 1)} isAnimationActive={false} />
          {children}
        </ScatterChart>
      </div>
      <div
        style={{
          position: "absolute",
          left: left - 1,
          top: top - 1,
          width: pw,
          height: ph,
          border: "1.4px solid #555",
          pointerEvents: "none",
        }}
      />
      <div style={{ position: "absolute", left: tagAt[0], top: tagAt[1], fontSize: 25, lineHeight: "30px", color: "#111" }}>{tag}</div>
    </>
  );
}

function ColorBar({ title, ticks, range, left, top, width, height, labelX, titleX, titleTop }: any) {
  const stops = viridis.map((c, i) => `${c} ${(i / (viridis.length - 1)) * 100}%`).join(",");
  const yOf = (v: number) => top + (height * (range[1] - v)) / (range[1] - range[0]);
  return (
    <>
      <div style={{ position: "absolute", left: titleX, top: titleTop, fontSize: 20.5, lineHeight: "24px", color: "#111" }}>{title}</div>
      <div style={{ position: "absolute", left, top, width, height, background: `linear-gradient(to bottom,${stops})` }} />
      {ticks.map((t: number) => (
        <div key={t}>
          <div style={{ position: "absolute", left, top: yOf(t) - 0.5, width: 6.5, height: 1, background: "rgba(255,255,255,0.75)" }} />
          <div style={{ position: "absolute", left: left + width - 6.5, top: yOf(t) - 0.5, width: 6.5, height: 1, background: "rgba(255,255,255,0.75)" }} />
          <div style={{ position: "absolute", left: labelX, top: yOf(t) - 10, fontSize: 16, lineHeight: "20px", color: "#222" }}>{t}</div>
        </div>
      ))}
    </>
  );
}

const regionLabel = ({ cx, cy, payload }: any) => (
  <text x={cx} y={cy + 7} textAnchor="middle" fill="#fff" fontSize={21.3} fontFamily={FONT}>
    {payload.name}
  </text>
);

const siteDot = (o: number) => ({ cx, cy }: any) => <circle cx={cx} cy={cy} r={2.8} fill="#000" fillOpacity={o} />;

export default function App() {
  return (
    <div style={{ position: "absolute", left: 0, top: 0, width: 1264, height: 719, overflow: "hidden", background: "#fff", fontFamily: FONT }}>
      <MapPanel box={[49, 24, 534, 680]} rows={richness} range={[1.84, 10.3]} tag="(a)" tagAt={[70, 40]} yWidth={49} xHeight={39} chartLeft={0} chartWidth={640}>
        <ReferenceLine
          segment={[{ x: tropicLon[0], y: tropicLat }, { x: tropicLon[1], y: tropicLat }]}
          stroke="#d0d0d0"
          strokeDasharray="8 7"
          strokeWidth={1.3}
        />
        <Scatter data={regions} shape={regionLabel} isAnimationActive={false} />
      </MapPanel>
      <ColorBar title="richness" ticks={[10, 8, 6, 4, 2]} range={[1.84, 10.3]} left={560} top={284} width={33} height={163} labelX={604} titleX={561} titleTop={254} />
      <MapPanel box={[675, 7, 1184, 696.7]} rows={cv} range={[0.45, 4.68]} tag="(b)" tagAt={[697, 26]} yWidth={45} xHeight={22.3} chartLeft={630} chartWidth={634}>
        <Scatter data={pts(fadedSites)} shape={siteDot(0.55)} isAnimationActive={false} />
        <Scatter data={pts(sites)} shape={siteDot(0.92)} isAnimationActive={false} />
      </MapPanel>
      <ColorBar title="CV" ticks={[4, 3, 2, 1]} range={[0.45, 4.68]} left={1215} top={285} width={33} height={163} labelX={1258} titleX={1216} titleTop={253} />
    </div>
  );
}
